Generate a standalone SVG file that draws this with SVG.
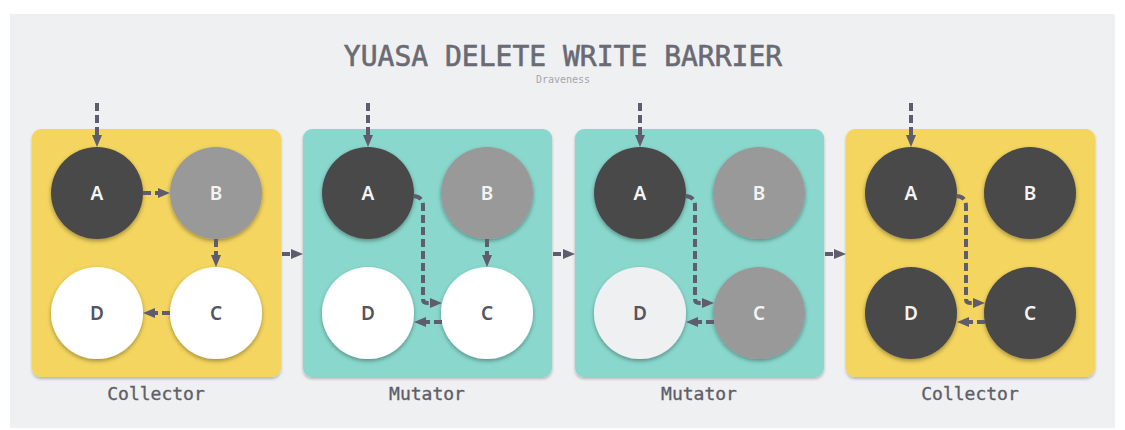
<svg xmlns="http://www.w3.org/2000/svg" width="1125" height="430" viewBox="0 0 1125 430">
<defs>
<style>
.bg{fill:#EFF0F2}
.panel-y{fill:#F4D55F;filter:url(#ps)}
.panel-t{fill:#8AD8CD;filter:url(#ps)}
.dark{fill:#4A4A4A;filter:url(#cs)}
.grey{fill:#999999;filter:url(#cs)}
.white{fill:#FFFFFF;filter:url(#cs)}
.light{fill:#EFF0F2;filter:url(#cs)}
.lw{font-family:"Noto Sans","DejaVu Sans",sans-serif;font-size:19px;font-weight:600;fill:#F4F4F4;text-anchor:middle}
.ld{font-family:"Noto Sans","DejaVu Sans",sans-serif;font-size:19px;font-weight:600;fill:#55545F;text-anchor:middle}
.cap{font-family:"DejaVu Sans Mono",monospace;font-size:18px;fill:#5F5E69;stroke:#5F5E69;stroke-width:0.35;text-anchor:middle}
.title{font-family:"DejaVu Sans Mono",monospace;font-size:28px;fill:#6A6A74;stroke:#6A6A74;stroke-width:0.6;text-anchor:middle}
.sub{font-family:"DejaVu Sans Mono",monospace;font-size:10px;fill:#A3A6AC;text-anchor:middle}
.ar{fill:none;stroke:#5F5D6D;stroke-width:4;stroke-dasharray:8 4;marker-end:url(#ah)}
</style>
<marker id="ah" viewBox="0 0 12 10" refX="6" refY="5" markerWidth="12" markerHeight="10" markerUnits="userSpaceOnUse" orient="auto">
<path d="M0,0 L12,5 L0,10 z" fill="#5F5D6D"/>
</marker>
<filter id="cs" x="-20%" y="-20%" width="140%" height="150%">
<feDropShadow dx="0" dy="2" stdDeviation="2" flood-color="#000" flood-opacity="0.35"/>
</filter>
<filter id="ps" x="-5%" y="-5%" width="110%" height="112%">
<feDropShadow dx="0" dy="2" stdDeviation="1.5" flood-color="#000" flood-opacity="0.25"/>
</filter>
</defs>
<rect class="bg" x="10" y="14" width="1105" height="414"/>
<text class="title" x="563" y="66">YUASA DELETE WRITE BARRIER</text>
<text class="sub" x="563" y="83">Draveness</text>

<g id="panel1">
<rect class="panel-y" x="32" y="129" width="249" height="248" rx="9"/>
<text class="cap" x="156" y="400">Collector</text>
</g>
<g id="panel2">
<rect class="panel-t" x="303" y="129" width="249" height="248" rx="9"/>
<text class="cap" x="427" y="400">Mutator</text>
</g>
<g id="panel3">
<rect class="panel-t" x="575" y="129" width="249" height="248" rx="9"/>
<text class="cap" x="699" y="400">Mutator</text>
</g>
<g id="panel4">
<rect class="panel-y" x="846" y="129" width="249" height="248" rx="9"/>
<text class="cap" x="970" y="400">Collector</text>
</g>

<g id="p1-A"><circle class="dark" cx="97" cy="193" r="46"/><text class="lw" x="97" y="200">A</text></g>
<g id="p1-B"><circle class="grey" cx="216" cy="193" r="46"/><text class="lw" x="216" y="200">B</text></g>
<g id="p1-C"><circle class="white" cx="216" cy="313" r="46"/><text class="ld" x="216" y="320">C</text></g>
<g id="p1-D"><circle class="white" cx="97" cy="313" r="46"/><text class="ld" x="97" y="320">D</text></g>

<g id="p2-A"><circle class="dark" cx="368" cy="193" r="46"/><text class="lw" x="368" y="200">A</text></g>
<g id="p2-B"><circle class="grey" cx="487" cy="193" r="46"/><text class="lw" x="487" y="200">B</text></g>
<g id="p2-C"><circle class="white" cx="487" cy="313" r="46"/><text class="ld" x="487" y="320">C</text></g>
<g id="p2-D"><circle class="white" cx="368" cy="313" r="46"/><text class="ld" x="368" y="320">D</text></g>

<g id="p3-A"><circle class="dark" cx="640" cy="193" r="46"/><text class="lw" x="640" y="200">A</text></g>
<g id="p3-B"><circle class="grey" cx="759" cy="193" r="46"/><text class="lw" x="759" y="200">B</text></g>
<g id="p3-C"><circle class="grey" cx="759" cy="313" r="46"/><text class="lw" x="759" y="320">C</text></g>
<g id="p3-D"><circle class="light" cx="640" cy="313" r="46"/><text class="ld" x="640" y="320">D</text></g>

<g id="p4-A"><circle class="dark" cx="911" cy="193" r="46"/><text class="lw" x="911" y="200">A</text></g>
<g id="p4-B"><circle class="dark" cx="1030" cy="193" r="46"/><text class="lw" x="1030" y="200">B</text></g>
<g id="p4-C"><circle class="dark" cx="1030" cy="313" r="46"/><text class="lw" x="1030" y="320">C</text></g>
<g id="p4-D"><circle class="dark" cx="911" cy="313" r="46"/><text class="lw" x="911" y="320">D</text></g>

<g id="connectors">
<path class="ar" d="M97 103 V141"/>
<path class="ar" d="M368 103 V141"/>
<path class="ar" d="M640 103 V141"/>
<path class="ar" d="M911 103 V141"/>

<path class="ar" d="M143 193 H164"/>
<path class="ar" d="M216 239 V261"/>
<path class="ar" d="M170 313 H149"/>

<path class="ar" d="M414 196 Q423 197 423 206 V299 Q423 303 427 303 H436"/>
<path class="ar" d="M487 239 V261"/>
<path class="ar" d="M442 322 H420"/>

<path class="ar" d="M686 196 Q695 197 695 206 V299 Q695 303 699 303 H708"/>
<path class="ar" d="M714 322 H692"/>

<path class="ar" d="M957 196 Q966 197 966 206 V299 Q966 303 970 303 H979"/>
<path class="ar" d="M985 322 H963"/>

<path class="ar" d="M282 254 H297"/>
<path class="ar" d="M553 254 H569"/>
<path class="ar" d="M825 254 H840"/>
</g>
</svg>
